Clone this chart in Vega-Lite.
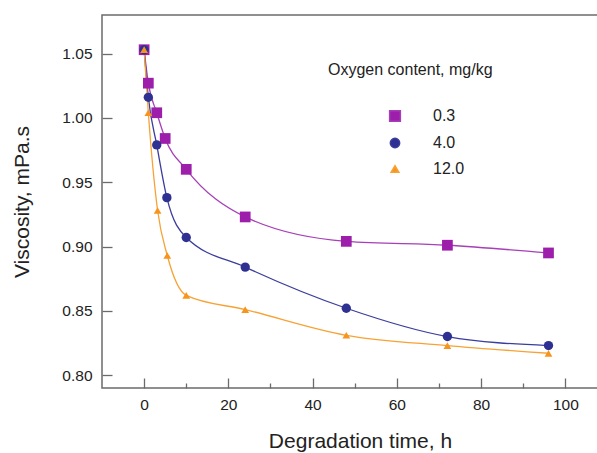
{
  "$schema": "https://vega.github.io/schema/vega-lite/v6.json",
  "width": 516,
  "height": 373,
  "autosize": "none",
  "padding": {"left": 102, "top": 15, "right": 0, "bottom": 65},
  "background": "white",
  "config": {
    "font": "Liberation Sans",
    "view": {"stroke": "#6b6b6b", "strokeWidth": 1.5},
    "axis": {
      "domain": false,
      "grid": false,
      "tickColor": "#6b6b6b",
      "tickWidth": 1.3,
      "labelFont": "Liberation Sans",
      "labelFontSize": 15.5,
      "labelColor": "#222222",
      "titleFont": "Liberation Sans",
      "titleFontSize": 21,
      "titleFontWeight": "normal",
      "titleColor": "#222222"
    },
    "legend": {
      "orient": "none",
      "legendX": 226,
      "legendY": 47,
      "titleFont": "Liberation Sans",
      "titleFontSize": 16,
      "titleFontWeight": "normal",
      "titleColor": "#222222",
      "labelFont": "Liberation Sans",
      "labelFontSize": 16,
      "labelColor": "#222222",
      "symbolOffset": 59,
      "labelOffset": 30,
      "titlePadding": 30,
      "rowPadding": 10,
      "padding": 0
    }
  },
  "data": {
    "values": [
      {"t": 0, "v": 1.053, "oxygen": "0.3"},
      {"t": 1, "v": 1.027, "oxygen": "0.3"},
      {"t": 3, "v": 1.004, "oxygen": "0.3"},
      {"t": 5, "v": 0.984, "oxygen": "0.3"},
      {"t": 10, "v": 0.960, "oxygen": "0.3"},
      {"t": 24, "v": 0.923, "oxygen": "0.3"},
      {"t": 48, "v": 0.904, "oxygen": "0.3"},
      {"t": 72, "v": 0.901, "oxygen": "0.3"},
      {"t": 96, "v": 0.895, "oxygen": "0.3"},
      {"t": 0, "v": 1.053, "oxygen": "4.0"},
      {"t": 1, "v": 1.016, "oxygen": "4.0"},
      {"t": 3, "v": 0.979, "oxygen": "4.0"},
      {"t": 5.4, "v": 0.938, "oxygen": "4.0"},
      {"t": 10, "v": 0.907, "oxygen": "4.0"},
      {"t": 24, "v": 0.884, "oxygen": "4.0"},
      {"t": 48, "v": 0.852, "oxygen": "4.0"},
      {"t": 72, "v": 0.830, "oxygen": "4.0"},
      {"t": 96, "v": 0.823, "oxygen": "4.0"},
      {"t": 0, "v": 1.053, "oxygen": "12.0"},
      {"t": 1, "v": 1.004, "oxygen": "12.0"},
      {"t": 3.2, "v": 0.928, "oxygen": "12.0"},
      {"t": 5.5, "v": 0.893, "oxygen": "12.0"},
      {"t": 10, "v": 0.862, "oxygen": "12.0"},
      {"t": 24, "v": 0.851, "oxygen": "12.0"},
      {"t": 48, "v": 0.831, "oxygen": "12.0"},
      {"t": 72, "v": 0.823, "oxygen": "12.0"},
      {"t": 96, "v": 0.817, "oxygen": "12.0"}
    ]
  },
  "layer": [
    {
      "mark": {"type": "line", "interpolate": "monotone", "strokeWidth": 1.3},
      "encoding": {
        "x": {
          "field": "t", "type": "quantitative",
          "scale": {"domain": [-10, 112.5], "nice": false, "zero": false},
          "axis": {
            "orient": "bottom",
            "title": "Degradation time, h",
            "values": [0, 10, 20, 30, 40, 50, 60, 70, 80, 90, 100, 110],
            "labelExpr": "datum.value % 20 === 0 ? datum.label : ''",
            "tickSize": {"condition": {"test": "datum.value % 20 === 0", "value": -10}, "value": -5},
            "labelPadding": 19,
            "titlePadding": 18
          }
        },
        "y": {
          "field": "v", "type": "quantitative",
          "scale": {"domain": [0.79, 1.08], "nice": false, "zero": false},
          "axis": {
            "orient": "left",
            "title": "Viscosity, mPa.s",
            "values": [0.8, 0.825, 0.85, 0.875, 0.9, 0.925, 0.95, 0.975, 1.0, 1.025, 1.05, 1.075],
            "labelExpr": "abs(datum.value*20 - round(datum.value*20)) < 0.01 ? format(datum.value, '.2f') : ''",
            "tickSize": {"condition": {"test": "abs(datum.value*20 - round(datum.value*20)) < 0.01", "value": -10}, "value": -6},
            "labelPadding": 20,
            "titlePadding": 29
          }
        },
        "stroke": {
          "field": "oxygen", "type": "nominal",
          "scale": {"domain": ["0.3", "4.0", "12.0"], "range": ["#a63fb8", "#3b3d9c", "#f7a235"]}
        },
        "order": {"field": "t"}
      }
    },
    {
      "mark": {"type": "point", "filled": true, "opacity": 1},
      "encoding": {
        "x": {"field": "t", "type": "quantitative"},
        "y": {"field": "v", "type": "quantitative"},
        "color": {
          "field": "oxygen", "type": "nominal",
          "scale": {"domain": ["0.3", "4.0", "12.0"], "range": ["#9c1eaa", "#2e3192", "#f7941d"]},
          "legend": {"title": "Oxygen content, mg/kg"}
        },
        "shape": {
          "field": "oxygen", "type": "nominal",
          "scale": {"domain": ["0.3", "4.0", "12.0"], "range": ["square", "circle", "triangle-up"]}
        },
        "size": {
          "field": "oxygen", "type": "nominal",
          "scale": {"domain": ["0.3", "4.0", "12.0"], "range": [115, 60, 100]}
        }
      }
    }
  ]
}
